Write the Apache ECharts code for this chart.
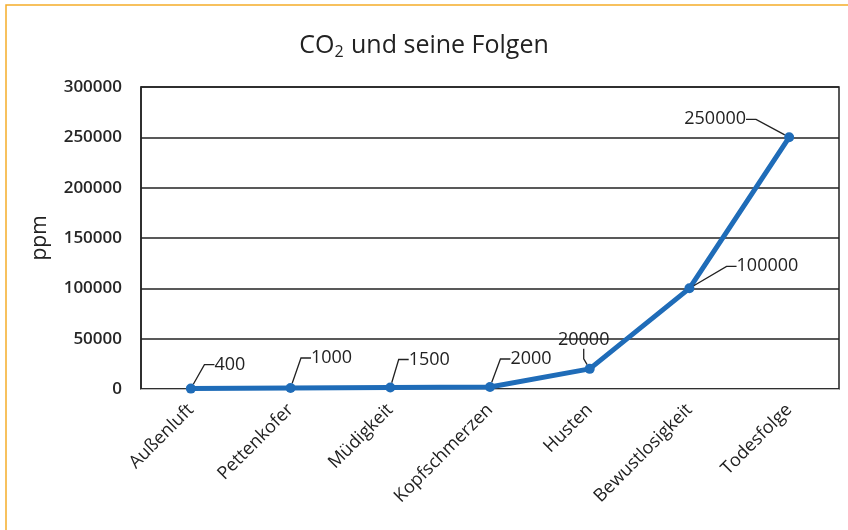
<!DOCTYPE html>
<html>
<head>
<meta charset="utf-8">
<script src="https://cdn.jsdelivr.net/npm/echarts@6/dist/echarts.min.js"></script>
<style>
	html, body { margin: 0; padding: 0; background: #fff; }
	#charts { width: 848px; height: 530px; }
</style>
</head>
<body>
<div id="charts"></div>
<script>
// Daten
var categories = ['Außenluft', 'Pettenkofer', 'Müdigkeit', 'Kopfschmerzen', 'Husten', 'Bewustlosigkeit', 'Todesfolge'];
var ppmValues = [400, 1000, 1500, 2000, 20000, 100000, 250000];
var yTicks = [0, 50000, 100000, 150000, 200000, 250000, 300000];

// Verschiebung der Beschriftungen (wie im Original von Hand gesetzt)
var labelShift = [
	[39, -24], [41, -30], [39, -28], [41, -28], [-6, -29], [78, -22], [-74, -18]
];

var font = 'Open Sans';
var myChart;

function initChart() {
	myChart = echarts.init(document.getElementById('charts'));
	var option = {
		backgroundColor: '#fff',
		animation: false,
		title: {
			text: '{a|CO}{s|2}{a| und seine Folgen}',
			left: 'center',
			top: 25,
			textStyle: {
				rich: {
					a: { fontFamily: font, fontSize: 25, fontWeight: 'normal', color: '#222', lineHeight: 32 },
					s: { fontFamily: font, fontSize: 16, fontWeight: 'normal', color: '#222', padding: [13, 1, 0, 0], lineHeight: 32 }
				}
			}
		},
		graphic: [{
			type: 'rect',
			shape: { x: 6, y: 5, width: 900, height: 600 },
			style: { fill: 'none', stroke: '#f5ad2a', lineWidth: 1.5 },
			silent: true
		}],
		grid: {
			left: 141, right: 9, top: 87, bottom: 141,
			show: true,
			borderColor: '#222',
			borderWidth: 1.5
		},
		xAxis: {
			type: 'category',
			data: categories,
			axisLine: { lineStyle: { color: '#bbb', width: 1 } },
			axisTick: { show: false },
			axisLabel: {
				rotate: 45, interval: 0, margin: 18,
				fontFamily: font, fontSize: 18, color: '#222'
			}
		},
		yAxis: {
			type: 'value',
			min: yTicks[0],
			max: yTicks[yTicks.length - 1],
			interval: yTicks[1] - yTicks[0],
			name: 'ppm',
			nameLocation: 'middle',
			nameGap: 90,
			nameTextStyle: { fontFamily: font, fontSize: 21, color: '#222' },
			axisLine: { show: true, lineStyle: { color: '#222', width: 1.5 } },
			axisTick: { show: false },
			splitLine: { lineStyle: { color: '#222', width: 1.5 } },
			axisLabel: {
				margin: 19,
				formatter: function (v) { return String(v); },
				fontFamily: font, fontSize: 17, fontWeight: 600, color: '#262626'
			}
		},
		series: [{
			type: 'line',
			data: ppmValues,
			symbol: 'circle',
			symbolSize: 10,
			lineStyle: { color: '#1f6cb8', width: 5 },
			itemStyle: { color: '#1f6cb8' },
			label: {
				show: true,
				position: 'inside',
				padding: [0, 4],
				fontFamily: font, fontSize: 18, color: '#222'
			},
			labelLine: {
				show: true,
				length2: 10,
				lineStyle: { color: '#222', width: 1.3 }
			},
			labelLayout: function (p) {
				var s = labelShift[p.dataIndex];
				return { dx: s[0], dy: s[1] };
			}
		}]
	};
	myChart.setOption(option);
}

initChart();
</script>
</body>
</html>
